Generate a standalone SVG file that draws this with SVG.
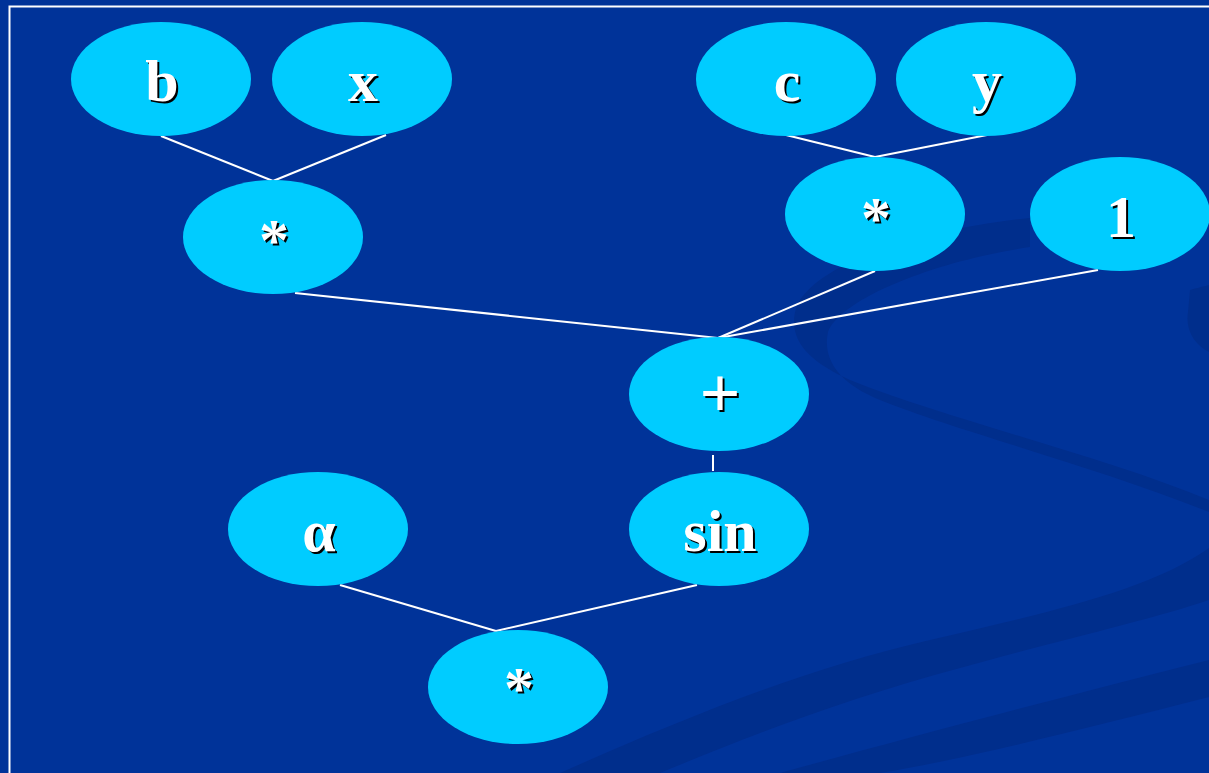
<svg xmlns="http://www.w3.org/2000/svg" width="1209" height="773" viewBox="0 0 1209 773">
  <style>
    .node ellipse { fill: #00CCFF; }
    .lbl { font-family: "Liberation Serif", "Times New Roman", serif; font-weight: bold; font-size: 60px; text-anchor: middle; }
    .big { font-size: 72px; }
    .sh { fill: #000000; }
    .fg { fill: #FFFFFF; }
    #edges line { stroke: #FFFFFF; stroke-width: 2; }
    .swoosh { fill: #002E8C; }
  </style>

  <!-- backdrop -->
  <rect x="0" y="0" width="1209" height="773" fill="#003399"/>
  <g id="backdrop-swooshes">
    <!-- looping band behind the right-hand nodes -->
    <path class="swoosh" d="M1030,218 C930,228 820,260 797,305 C785,340 810,362 850,380 C950,420 1100,455 1209,500 L1209,512 C1100,468 960,432 880,400 C840,384 822,360 828,332 C840,300 930,262 1030,247 Z"/>
    <path class="swoosh" d="M1190,290 C1209,285 1209,285 1209,285 L1209,352 C1195,345 1185,330 1188,312 Z"/>
    <!-- long bands sweeping up to the right -->
    <path class="swoosh" d="M560,773 C680,720 800,670 930,640 C1050,612 1150,590 1209,548 L1209,600 C1150,620 1060,640 960,668 C840,700 740,740 660,773 Z"/>
    <path class="swoosh" d="M780,773 C900,740 1050,700 1209,660 L1209,697 C1080,730 960,760 880,773 Z"/>
  </g>

  <!-- frame -->
  <rect x="9.5" y="6.5" width="1220" height="800" fill="none" stroke="#FFFFFF" stroke-width="2"/>

  <g id="edges">
    <line x1="161" y1="136" x2="273" y2="181"/>
    <line x1="386" y1="135" x2="273" y2="181"/>
    <line x1="786" y1="135" x2="875" y2="157"/>
    <line x1="987" y1="135" x2="875" y2="157"/>
    <line x1="295" y1="293" x2="718" y2="338"/>
    <line x1="875" y1="271" x2="718" y2="338"/>
    <line x1="1098" y1="270" x2="718" y2="338"/>
    <line x1="713" y1="455" x2="713" y2="471"/>
    <line x1="340" y1="585" x2="496" y2="631"/>
    <line x1="697" y1="585" x2="496" y2="631"/>
  </g>

  <g id="node-b" class="node">
    <ellipse cx="161" cy="79" rx="90" ry="57"/>
    <text class="lbl sh" x="164" y="103">b</text>
    <text class="lbl fg" x="162" y="101">b</text>
  </g>
  <g id="node-x" class="node">
    <ellipse cx="362" cy="79" rx="90" ry="57"/>
    <text class="lbl sh" x="365" y="103">x</text>
    <text class="lbl fg" x="363" y="101">x</text>
  </g>
  <g id="node-c" class="node">
    <ellipse cx="786" cy="79" rx="90" ry="57"/>
    <text class="lbl sh" x="789" y="103">c</text>
    <text class="lbl fg" x="787" y="101">c</text>
  </g>
  <g id="node-y" class="node">
    <ellipse cx="986" cy="79" rx="90" ry="57"/>
    <text class="lbl sh" x="989" y="103">y</text>
    <text class="lbl fg" x="987" y="101">y</text>
  </g>
  <g id="node-mul-bx" class="node">
    <ellipse cx="273" cy="237" rx="90" ry="57"/>
    <text class="lbl sh" x="276" y="262">*</text>
    <text class="lbl fg" x="274" y="260">*</text>
  </g>
  <g id="node-mul-cy" class="node">
    <ellipse cx="875" cy="214" rx="90" ry="57"/>
    <text class="lbl sh" x="878" y="240">*</text>
    <text class="lbl fg" x="876" y="238">*</text>
  </g>
  <g id="node-one" class="node">
    <ellipse cx="1120" cy="214" rx="90" ry="57"/>
    <text class="lbl sh" x="1123" y="239">1</text>
    <text class="lbl fg" x="1121" y="237">1</text>
  </g>
  <g id="node-plus" class="node">
    <ellipse cx="719" cy="394" rx="90" ry="57"/>
    <text class="lbl big sh" x="722" y="419">+</text>
    <text class="lbl big fg" x="720" y="417">+</text>
  </g>
  <g id="node-alpha" class="node">
    <ellipse cx="318" cy="529" rx="90" ry="57"/>
    <text class="lbl sh" x="321" y="553">α</text>
    <text class="lbl fg" x="319" y="551">α</text>
  </g>
  <g id="node-sin" class="node">
    <ellipse cx="719" cy="529" rx="90" ry="57"/>
    <text class="lbl sh" x="722" y="553">sin</text>
    <text class="lbl fg" x="720" y="551">sin</text>
  </g>
  <g id="node-mul-root" class="node">
    <ellipse cx="518" cy="687" rx="90" ry="57"/>
    <text class="lbl sh" x="521" y="710">*</text>
    <text class="lbl fg" x="519" y="708">*</text>
  </g>
</svg>
